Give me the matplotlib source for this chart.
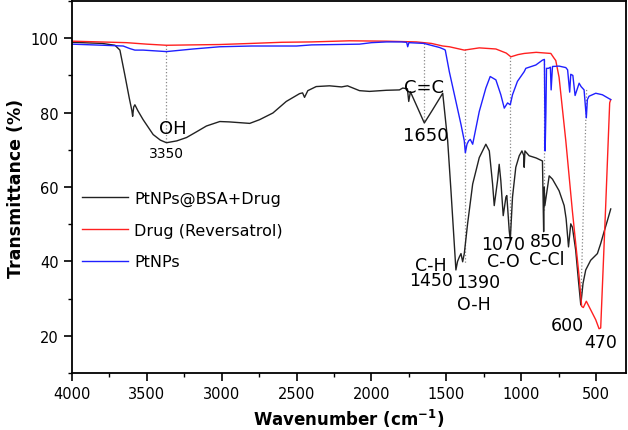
import numpy as np
import matplotlib
matplotlib.use("Agg")
import matplotlib.pyplot as plt
from matplotlib.ticker import MultipleLocator

plt.rcParams['font.family'] = ['DejaVu Sans']

# PtNPs@BSA+Drug (black)
wn_mix = [4000, 3800, 3713, 3680, 3647, 3618, 3600, 3595, 3588, 3580, 3560, 3525,
          3458, 3410, 3369, 3300, 3235, 3170, 3102, 3013, 2950, 2813, 2747, 2658,
          2569, 2480, 2460, 2447, 2425, 2369, 2280, 2200, 2160, 2080, 2013, 1900,
          1813, 1791, 1760, 1751, 1740, 1691, 1647, 1591, 1524, 1491, 1469, 1447,
          1436, 1425, 1413, 1402, 1391, 1380, 1358, 1324, 1280, 1236, 1213, 1191,
          1180, 1158, 1147, 1136, 1120, 1102, 1096, 1080, 1073, 1058, 1036, 1013,
          995, 983, 980, 975, 947, 900, 858, 850, 846, 842, 813, 791, 747, 713,
          700, 684, 669, 658, 636, 618, 602, 587, 569, 536, 491, 469, 447, 424, 402]
t_mix = [98.9, 98.6, 98.1, 96.8, 90.1, 84.0, 80.5, 79.0, 81.5, 82.1, 80.5, 78.1,
         74.1, 72.6, 71.9, 72.4, 73.3, 74.8, 76.4, 77.6, 77.5, 77.1, 78.1, 79.9,
         83.0, 85.1, 85.3, 84.1, 85.9, 87.0, 87.2, 86.9, 87.2, 85.9, 85.7, 86.0,
         86.1, 86.6, 86.4, 83.0, 85.6, 81.2, 77.2, 80.8, 85.2, 72.4, 59.0, 44.8,
         37.7, 40.0, 41.2, 42.1, 39.9, 42.1, 50.1, 60.8, 67.9, 71.5, 69.7, 60.8,
         55.0, 61.7, 66.1, 61.7, 52.3, 57.3, 57.7, 48.3, 45.7, 57.3, 65.3, 68.4,
         69.7, 68.5, 65.3, 69.7, 68.4, 67.8, 67.0, 48.0, 60.0, 55.0, 63.0, 62.1,
         59.0, 55.0, 51.5, 43.9, 50.1, 49.2, 43.0, 35.0, 28.3, 34.1, 37.7, 40.3,
         42.1, 44.8, 47.9, 51.0, 54.1]

# Drug (Reversatrol) (red)
wn_drug = [4000, 3636, 3500, 3369, 3200, 3013, 2800, 2600, 2400, 2147, 1900, 1700,
           1600, 1524, 1480, 1380, 1280, 1169, 1100, 1069, 1020, 980, 900, 802,
           780, 769, 747, 702, 658, 613, 596, 585, 565, 536, 502, 480, 469, 436,
           409, 402]
t_drug = [99.2, 98.8, 98.4, 98.1, 98.2, 98.3, 98.6, 98.9, 99.0, 99.3, 99.2, 99.0,
          98.6, 97.9, 97.7, 96.8, 97.4, 97.1, 96.0, 95.0, 95.6, 95.9, 96.2, 95.9,
          94.6, 94.0, 89.5, 72.4, 53.5, 35.9, 27.9, 27.6, 29.3, 27.0, 24.3, 21.9,
          22.1, 54.6, 82.6, 83.5]

# PtNPs (blue)
wn_pt = [4000, 3791, 3658, 3613, 3580, 3525, 3369, 3191, 3013, 2800, 2500, 2400,
         2080, 2000, 1900, 1800, 1765, 1758, 1750, 1650, 1545, 1515, 1507, 1480,
         1436, 1402, 1380, 1373, 1362, 1351, 1340, 1324, 1280, 1236, 1207, 1169,
         1136, 1113, 1091, 1073, 1058, 1025, 980, 969, 902, 858, 845, 840, 835,
         831, 818, 805, 800, 791, 747, 702, 690, 676, 669, 655, 640, 613, 600,
         580, 565, 558, 547, 502, 458, 402]
t_pt = [98.4, 98.1, 97.9, 97.2, 96.8, 96.8, 96.4, 97.1, 97.7, 97.9, 97.9, 98.2,
        98.4, 98.8, 99.0, 99.0, 98.9, 97.7, 98.8, 98.6, 97.5, 97.0, 96.8, 91.0,
        83.0, 76.8, 72.4, 69.2, 71.5, 72.4, 72.8, 71.5, 80.3, 86.6, 89.7, 88.8,
        84.8, 81.2, 82.6, 82.1, 84.8, 88.4, 91.0, 91.9, 92.8, 94.1, 94.3, 69.7,
        80.0, 91.9, 91.9, 92.2, 86.1, 92.4, 92.5, 92.1, 91.5, 85.5, 90.3, 90.0,
        84.6, 87.9, 87.0, 86.1, 78.6, 83.5, 84.4, 85.2, 84.8, 83.5]

# dotted guide lines: (x top, y top, x bottom, y bottom)
guides = [(3370, 98.1, 3370, 71.9), (1650, 98.8, 1650, 77.7),
          (1378, 97.0, 1378, 39.5), (1072, 95.0, 1072, 45.7),
          (847, 94.1, 847, 53.7), (563, 86.1, 602, 28.3)]

# peak labels: (text, x, y, size, ha, line spacing)
labels = [("OH", 3325, 75.9, 13, 'center', 1.0),
          ("3350", 3369, 69.2, 10, 'center', 1.0),
          ("C=C", 1651, 86.9, 13, 'center', 1.0),
          ("1650", 1640, 74.1, 13, 'center', 1.0),
          ("C-H\n1450", 1602, 36.9, 12.5, 'center', 0.78),
          ("1390", 1287, 34.4, 12.5, 'center', 1.0),
          ("O-H", 1313, 28.5, 12.5, 'center', 1.0),
          ("1070\nC-O", 1122, 42.4, 12.5, 'center', 0.9),
          ("850\nC-Cl", 945, 43.1, 12.5, 'left', 1.02),
          ("600", 691, 23.0, 12.5, 'center', 1.0),
          ("470", 469, 18.3, 12.5, 'center', 1.0)]

fig = plt.figure(figsize=(6.28, 4.31), dpi=100)
ax = fig.add_axes([72/628, 57/431, 554/628, 372/431])

for xt, yt, xb, yb in guides:
    ax.plot([xt, xb], [yt, yb], ':', color='#888888', linewidth=0.9, zorder=1)

ax.plot(wn_mix, t_mix, color='#222222', linewidth=1.0, label="PtNPs@BSA+Drug")
ax.plot(wn_drug, t_drug, color='#ff2020', linewidth=1.0, label="Drug (Reversatrol)")
ax.plot(wn_pt, t_pt, color='#2020ff', linewidth=1.0, label="PtNPs")

for txt, x, y, s, ha, ls in labels:
    ax.text(x, y, txt, ha=ha, va='center', multialignment=ha, fontsize=s,
            linespacing=ls)

ax.set_xlim(4000, 300)
ax.set_ylim(10, 110)
ax.xaxis.set_major_locator(MultipleLocator(500))
ax.xaxis.set_minor_locator(MultipleLocator(250))
ax.yaxis.set_minor_locator(MultipleLocator(10))
ax.set_yticks([20, 40, 60, 80, 100])
ax.tick_params(which='major', direction='out', length=6, width=1.2, labelsize=10.5)
ax.tick_params(which='minor', direction='out', length=3, width=1.0)
for sp in ax.spines.values():
    sp.set_linewidth(1.3)

ax.set_xlabel("Wavenumber (cm$^{\\mathbf{-1}}$)", fontsize=12, fontweight='bold')
ax.set_ylabel("Transmittance (%)", fontsize=12.5, fontweight='bold')

ax.legend(loc='upper left', bbox_to_anchor=(0.018, 0.49), frameon=False,
          fontsize=11.5, borderpad=0, borderaxespad=0, handlelength=2.9,
          handletextpad=0.35, labelspacing=1.05)

fig.savefig("out.png", dpi=100)
